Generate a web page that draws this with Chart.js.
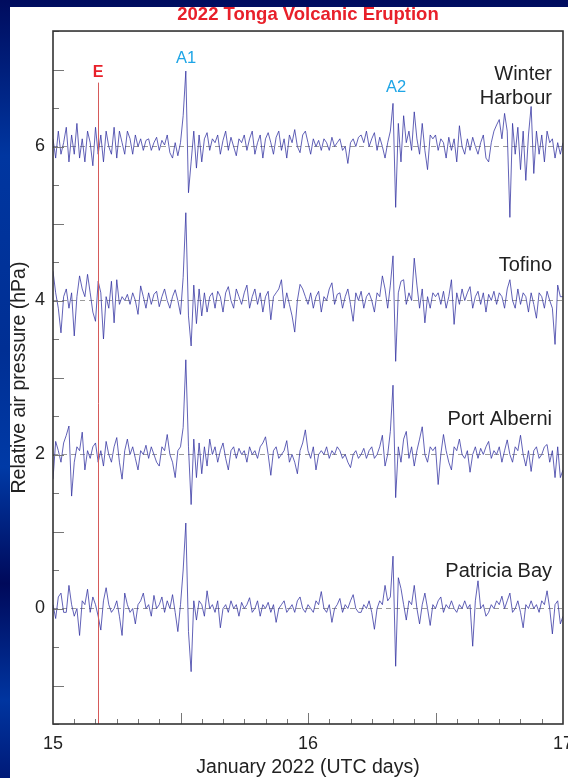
<!DOCTYPE html>
<html>
<head>
<meta charset="utf-8">
<script src="https://cdn.jsdelivr.net/npm/chart.js@4.4.1/dist/chart.umd.min.js"></script>
<style>
  html, body { margin: 0; padding: 0; }
  body {
    width: 568px; height: 778px; overflow: hidden; position: relative;
    background: linear-gradient(180deg, #000c5e 0%, #0036a0 20%, #002f94 45%, #003aa6 60%, #00095a 75%, #0035a0 90%, #001a78 100%);
  }
  #panel { position: absolute; left: 10px; top: 7px; width: 558px; height: 771px; background: #fff; }
</style>
</head>
<body>
<div id="panel"><canvas id="pressureChart" width="558" height="771"></canvas></div>
<script>
// 15 minute samples from 15 Jan 00:00 to 17 Jan 00:00 UTC (one row = 3 hours)
const STEP = 1 / 96;
const START_DAY = 15;

const stationNames = ['Winter Harbour', 'Tofino', 'Port Alberni', 'Patricia Bay'];
const stationOffsets = [6, 4, 2, 0];

// deviations (hPa)
const winterHarbour = [
  0.1,-0.15,0.2,-0.1,0.05,0.25,-0.2,0.15,-0.1,0.3,-0.15,0.1,
  -0.2,0.2,0.05,-0.25,0.25,-0.1,0.15,-0.2,0.2,0.0,-0.1,0.25,
  -0.15,0.2,0.05,-0.1,0.2,0.1,-0.1,0.15,0.0,0.1,-0.05,0.08,
  0.1,-0.05,0.05,0.12,-0.05,0.08,0.02,0.15,-0.08,-0.15,0.05,-0.12,
  0.05,0.4,0.98,-0.6,-0.2,0.2,-0.28,0.15,-0.2,0.1,0.18,-0.05,
  0.1,0.05,0.15,-0.1,0.08,0.2,-0.05,0.12,0.0,-0.12,0.1,0.05,
  0.15,-0.05,0.1,0.2,-0.1,0.05,0.15,-0.15,0.1,0.18,0.05,-0.1,
  0.12,0.2,-0.05,0.1,-0.15,0.15,0.05,0.22,0.0,-0.08,0.15,0.2,
  0.05,-0.1,0.1,0.0,0.08,-0.05,0.1,0.05,-0.05,0.12,0.0,0.05,
  0.1,-0.05,0.0,-0.22,0.05,0.1,0.0,0.12,0.15,0.05,0.2,0.0,
  0.1,0.18,-0.05,0.12,0.0,-0.15,0.05,0.2,0.56,-0.79,0.3,-0.2,
  0.4,0.05,0.2,-0.05,0.45,0.1,-0.1,0.3,-0.05,-0.3,0.15,0.1,
  0.15,-0.05,0.1,0.05,-0.15,0.12,-0.05,0.1,-0.2,0.27,0.0,-0.1,
  0.1,-0.05,0.12,0.0,-0.1,0.05,0.15,-0.15,-0.2,0.05,0.2,0.28,
  0.35,0.1,0.43,0.2,-0.92,0.3,-0.1,0.25,-0.3,0.2,-0.44,0.15,
  0.52,-0.35,0.2,-0.1,0.15,-0.2,0.2,0.05,0.1,-0.15,0.05,-0.1,
  0.05
];

const tofino = [
  0.38,0.1,-0.1,-0.42,0.05,0.15,-0.1,0.1,-0.46,0.05,0.32,0.15,
  0.05,0.34,0.1,-0.15,-0.27,0.25,0.1,-0.5,0.05,-0.1,0.25,-0.29,
  0.27,-0.05,0.05,0.0,0.08,-0.05,0.1,0.0,-0.18,0.19,0.05,-0.1,
  0.1,-0.05,0.08,0.12,-0.08,0.05,0.15,0.0,-0.1,0.05,0.14,0.0,
  -0.18,0.3,1.14,-0.2,-0.59,0.2,-0.3,0.15,-0.2,0.1,-0.15,0.05,
  0.1,-0.1,0.12,0.05,-0.15,0.1,0.18,0.0,-0.1,0.15,0.05,-0.05,
  0.1,0.2,-0.1,0.05,0.15,-0.05,0.1,-0.15,0.05,0.12,-0.25,0.05,
  0.1,0.15,0.27,-0.1,0.1,-0.05,-0.2,-0.41,0.0,0.21,0.15,0.05,
  -0.05,0.1,-0.1,0.05,0.12,-0.15,0.05,0.0,0.15,0.23,-0.05,0.08,
  0.1,-0.1,0.05,0.15,-0.05,-0.27,0.1,0.0,0.12,-0.1,0.05,0.1,
  0.0,-0.15,0.1,0.05,0.32,0.15,-0.1,0.2,0.58,-0.79,0.1,0.25,
  0.27,-0.05,0.1,0.0,0.55,0.2,-0.1,0.15,-0.29,0.05,-0.1,0.1,
  0.05,0.1,-0.05,0.12,-0.1,0.05,0.27,-0.31,0.1,-0.05,0.15,0.0,
  0.1,0.18,-0.1,0.05,0.12,-0.05,0.1,-0.15,0.08,0.0,0.12,-0.05,
  0.1,0.05,-0.1,0.15,0.27,0.0,-0.1,0.15,-0.05,0.1,0.05,-0.15,
  0.1,-0.05,-0.23,0.1,0.05,-0.1,0.12,0.0,-0.1,-0.57,0.2,0.05,
  0.05
];

const portAlberni = [
  -0.32,0.17,0.05,-0.1,0.15,0.25,0.37,-0.54,-0.1,0.1,0.05,0.29,
  -0.2,0.05,-0.05,0.1,0.15,-0.1,0.05,-0.15,0.17,0.0,-0.1,0.1,
  0.22,-0.1,-0.32,0.05,0.2,0.0,0.1,-0.05,-0.2,0.05,0.0,0.12,
  -0.05,0.1,0.0,-0.1,-0.15,0.1,0.05,0.26,0.0,-0.1,-0.3,0.05,
  0.1,0.35,1.23,0.1,-0.65,0.2,-0.3,0.15,-0.25,0.1,-0.15,0.2,
  0.0,0.1,-0.1,0.05,0.15,-0.05,-0.2,0.05,0.1,-0.05,0.08,0.0,
  0.05,-0.1,0.1,0.0,0.05,-0.05,0.1,0.15,0.23,0.0,-0.27,0.05,
  0.1,-0.05,0.0,0.05,0.18,-0.1,0.0,-0.1,-0.25,0.05,0.15,0.32,
  0.05,-0.05,0.1,-0.2,0.0,0.05,0.0,0.1,-0.05,0.05,0.0,0.1,
  0.05,-0.05,0.0,-0.1,-0.17,0.0,0.05,-0.05,0.0,0.08,-0.05,0.05,
  0.1,-0.05,0.0,0.1,0.25,-0.15,0.0,0.3,0.9,-0.56,0.1,-0.1,
  0.2,0.3,-0.05,0.1,-0.15,0.05,0.2,0.36,0.0,-0.1,0.1,0.05,
  0.1,-0.39,0.0,0.26,0.05,-0.1,-0.2,0.1,0.05,0.2,0.0,-0.05,
  0.05,-0.23,0.0,0.1,-0.05,0.08,0.0,0.1,0.17,-0.05,0.05,0.0,
  0.1,-0.1,0.05,0.19,0.0,-0.1,0.1,0.05,0.25,0.0,-0.15,0.05,
  -0.22,0.05,0.1,-0.05,0.0,0.1,0.13,-0.1,0.05,-0.3,0.1,-0.3,
  -0.2
];

const patriciaBay = [
  0.05,-0.13,0.15,0.2,-0.05,-0.05,0.3,0.05,-0.1,0.0,-0.35,0.1,
  0.05,0.25,-0.05,0.15,0.05,-0.1,-0.28,0.1,0.27,0.05,-0.05,0.0,
  0.1,-0.1,-0.35,0.2,0.05,-0.05,0.0,-0.2,0.05,0.1,0.2,0.0,
  0.05,-0.1,0.17,0.0,0.05,0.15,-0.05,0.1,0.0,0.18,-0.05,-0.3,
  0.05,0.5,1.11,-0.3,-0.82,0.1,-0.15,0.1,0.05,-0.1,0.23,0.0,
  0.05,-0.05,0.1,-0.25,0.0,0.05,-0.05,0.1,0.0,0.05,-0.1,0.08,
  0.0,0.05,0.14,-0.05,0.0,0.1,-0.1,0.05,0.0,0.08,-0.05,0.05,
  -0.18,0.0,0.05,0.1,-0.05,0.0,0.05,-0.05,0.1,0.15,0.0,-0.05,
  0.05,0.0,-0.05,0.1,0.05,0.22,0.0,-0.05,0.05,-0.18,0.0,0.05,
  0.13,-0.05,0.05,0.0,0.1,0.18,0.0,-0.05,-0.05,0.05,0.0,0.1,
  -0.05,-0.27,0.0,0.1,0.05,0.3,0.1,0.15,0.68,-0.75,0.4,0.26,
  0.05,-0.15,0.1,0.05,0.3,0.0,-0.2,0.05,0.2,0.0,-0.22,0.05,
  0.0,0.1,0.15,-0.05,0.05,0.0,0.1,0.0,-0.05,0.05,0.0,0.1,
  0.0,0.05,-0.49,0.1,0.36,0.0,0.05,-0.1,-0.05,0.05,0.0,0.1,
  0.05,0.16,0.0,0.1,0.2,-0.05,0.0,0.1,-0.05,-0.25,0.05,0.0,
  0.1,0.0,0.05,-0.05,0.1,0.05,0.23,0.0,-0.33,0.05,0.1,-0.2,
  -0.1
];

const stationSeries = [winterHarbour, tofino, portAlberni, patriciaBay];

// event markers: E = eruption, A1/A2 = Lamb wave arrivals
const eruptionTime = 15.177;
const arrivals = [
  { label: 'A1', x: 15.522, y: 7.14 },
  { label: 'A2', x: 16.345, y: 6.77 }
];
// station label anchors (right-aligned)
const stationLabels = [
  { lines: ['Winter', 'Harbour'], x: 16.957, y: [6.93, 6.63] },
  { lines: ['Tofino'], x: 16.957, y: [4.45] },
  { lines: ['Port Alberni'], x: 16.957, y: [2.45] },
  { lines: ['Patricia Bay'], x: 16.957, y: [0.48] }
];

Chart.defaults.font.family = '"Liberation Sans", Arial, sans-serif';

const datasets = stationSeries.map((series, k) => ({
  label: stationNames[k],
  data: series.map((v, i) => ({ x: START_DAY + i * STEP, y: v + stationOffsets[k] })),
  borderColor: 'rgba(48, 48, 160, 0.85)',
  borderWidth: 0.9,
  pointRadius: 0,
  tension: 0,
  fill: false
}));

const overlay = {
  id: 'overlay',
  afterDraw(chart) {
    const { ctx, chartArea: a, scales: { x, y } } = chart;
    ctx.save();

    // eruption line
    ctx.strokeStyle = '#d65a5a';
    ctx.lineWidth = 1;
    const ex = Math.round(x.getPixelForValue(eruptionTime)) + 0.5;
    ctx.beginPath();
    ctx.moveTo(ex, y.getPixelForValue(6.83));
    ctx.lineTo(ex, a.bottom);
    ctx.stroke();

    // inner tick marks
    ctx.strokeStyle = '#777';
    ctx.lineWidth = 1;
    for (let v = -1.5; v <= 7.5; v += 0.5) {
      const py = Math.round(y.getPixelForValue(v)) + 0.5;
      const len = Number.isInteger(v) ? 11 : 6;
      ctx.beginPath();
      ctx.moveTo(a.left, py);
      ctx.lineTo(a.left + len, py);
      ctx.stroke();
    }
    for (let h = 2; h < 48; h += 2) {
      const px = Math.round(x.getPixelForValue(START_DAY + h / 24)) + 0.5;
      const len = h % 12 === 0 ? 11 : 5;
      ctx.beginPath();
      ctx.moveTo(px, a.bottom);
      ctx.lineTo(px, a.bottom - len);
      ctx.stroke();
    }

    // frame
    ctx.strokeStyle = '#333';
    ctx.lineWidth = 1.6;
    ctx.strokeRect(a.left, a.top, a.right - a.left, a.bottom - a.top);

    // labels
    ctx.textBaseline = 'middle';
    ctx.textAlign = 'center';
    ctx.fillStyle = '#e8202a';
    ctx.font = 'bold 16px "Liberation Sans", Arial, sans-serif';
    ctx.fillText('E', x.getPixelForValue(eruptionTime), y.getPixelForValue(6.96));

    ctx.fillStyle = '#1ea5e6';
    ctx.font = '16.5px "Liberation Sans", Arial, sans-serif';
    arrivals.forEach(m => ctx.fillText(m.label, x.getPixelForValue(m.x), y.getPixelForValue(m.y)));

    ctx.fillStyle = '#222';
    ctx.textAlign = 'right';
    ctx.font = '20px "Liberation Sans", Arial, sans-serif';
    stationLabels.forEach(s => {
      s.lines.forEach((t, j) => ctx.fillText(t, x.getPixelForValue(s.x), y.getPixelForValue(s.y[j])));
    });
    ctx.restore();
  }
};

new Chart(document.getElementById('pressureChart'), {
  type: 'line',
  data: { datasets: datasets },
  options: {
    responsive: false,
    animation: false,
    layout: { padding: { left: 0, right: 5, top: 0, bottom: 0 } },
    plugins: {
      legend: { display: false },
      tooltip: { enabled: false },
      title: {
        display: true,
        text: '2022 Tonga Volcanic Eruption',
        color: '#e8202a',
        fullSize: false,
        font: { size: 18.5, weight: 'bold', lineHeight: 0.85 },
        padding: { top: 0, bottom: 8.3 }
      }
    },
    scales: {
      x: {
        type: 'linear',
        min: 15,
        max: 17,
        afterFit: s => { s.height = 54; s.paddingLeft = 0; s.paddingRight = 0; },
        ticks: { stepSize: 1, padding: 9, color: '#222', font: { size: 18 }, maxRotation: 0 },
        grid: { display: false, drawTicks: false },
        border: { display: false },
        title: { display: true, text: 'January 2022 (UTC days)', color: '#222', font: { size: 19.5, lineHeight: 1 }, padding: { top: 0, bottom: 1 } }
      },
      y: {
        min: -1.5,
        max: 7.5,
        afterFit: s => { s.width = 43; s.paddingTop = 0; s.paddingBottom = 0; },
        ticks: {
          stepSize: 0.5,
          autoSkip: false,
          padding: 8,
          color: '#222',
          font: { size: 18 },
          callback: v => (v % 2 === 0 ? String(v) : '')
        },
        grid: {
          drawTicks: false,
          lineWidth: 1,
          color: c => (c.tick && c.tick.value % 2 === 0 ? '#9a9a9a' : 'rgba(0,0,0,0)')
        },
        border: { display: false, dash: [5, 4] },
        title: { display: true, text: 'Relative air pressure (hPa)', color: '#222', font: { size: 19.5, lineHeight: 1 }, padding: 0 }
      }
    }
  },
  plugins: [overlay]
});
</script>
</body>
</html>
